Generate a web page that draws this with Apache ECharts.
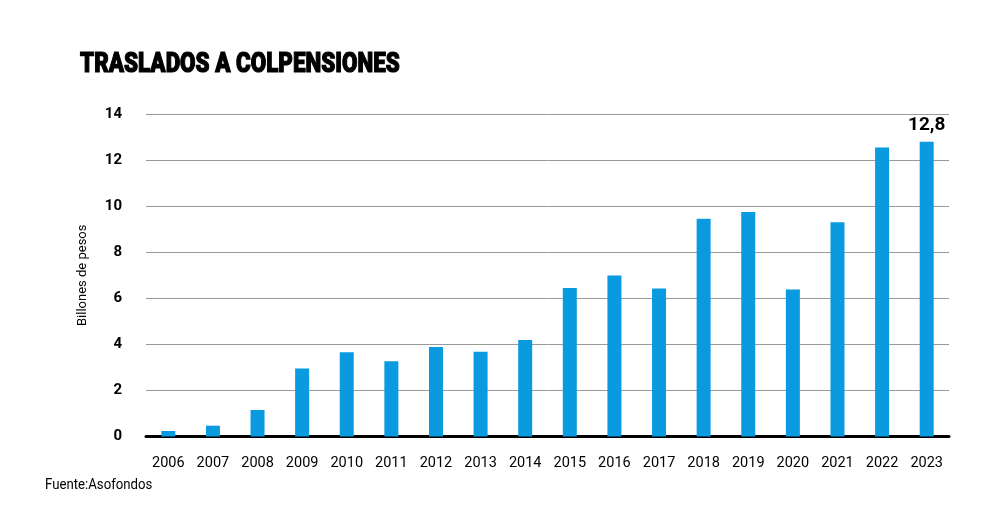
<!DOCTYPE html>
<html><head><meta charset="utf-8">
<script src="https://cdn.jsdelivr.net/npm/echarts@6/dist/echarts.min.js"></script>
<style>html,body{margin:0;padding:0;background:#fff}#c{width:1000px;height:530px}</style>
</head><body><div id="c"></div>
<script>
const years = ['2006','2007','2008','2009','2010','2011','2012','2013','2014','2015','2016','2017','2018','2019','2020','2021','2022','2023'];
const values = [0.24,0.47,1.15,2.95,3.66,3.27,3.88,3.68,4.19,6.45,6.99,6.42,9.45,9.75,6.38,9.3,12.55,12.8];
const yTicks = [0,2,4,6,8,10,12,14];
const lastLabel = '12,8';
const titleText = 'TRASLADOS A COLPENSIONES';
const sourceText = 'Fuente:Asofondos';
const yName = 'Billones de pesos';

const F = 'Roboto,"Noto Sans",sans-serif';
const chart = echarts.init(document.getElementById('c'), null, {renderer:'canvas'});
chart.setOption({
  animation:false,
  backgroundColor:'#fff',
  graphic:[
    {type:'text',x:80,y:51,scaleX:0.8,style:{text:titleText,font:'900 28px '+F,fill:'#000',stroke:'#000',lineWidth:1.2,textVerticalAlign:'top'}},
    {type:'text',x:45,y:478,scaleX:0.88,style:{text:sourceText,font:'15px '+F,fill:'#000',textVerticalAlign:'top'}}
  ],
  grid:{left:146,right:51,top:114,bottom:93.5,containLabel:false},
  xAxis:{type:'category',data:years,
    axisLine:{lineStyle:{color:'#000',width:3}},axisTick:{show:false},
    axisLabel:{interval:0,fontFamily:F,fontSize:14.5,color:'#000',margin:19}},
  yAxis:{type:'value',min:yTicks[0],max:yTicks[yTicks.length-1],interval:2,
    name:yName,nameLocation:'middle',nameGap:57,nameRotate:90,
    nameTextStyle:{fontFamily:F,fontSize:13,color:'#000'},
    axisLine:{show:false},axisTick:{show:false},
    axisLabel:{fontFamily:F,fontSize:15,fontWeight:'bold',color:'#000',margin:24},
    splitLine:{lineStyle:{color:'#9a9a9a',width:1}}},
  series:[{type:'bar',data:values.map((v,i)=>i===values.length-1?{value:v,label:{show:true,position:'top',formatter:lastLabel,distance:7,fontFamily:F,fontWeight:'bold',fontSize:19,color:'#000'}}:v),
    barWidth:14,itemStyle:{color:'#0a9ae0'}}]
});
</script></body></html>
